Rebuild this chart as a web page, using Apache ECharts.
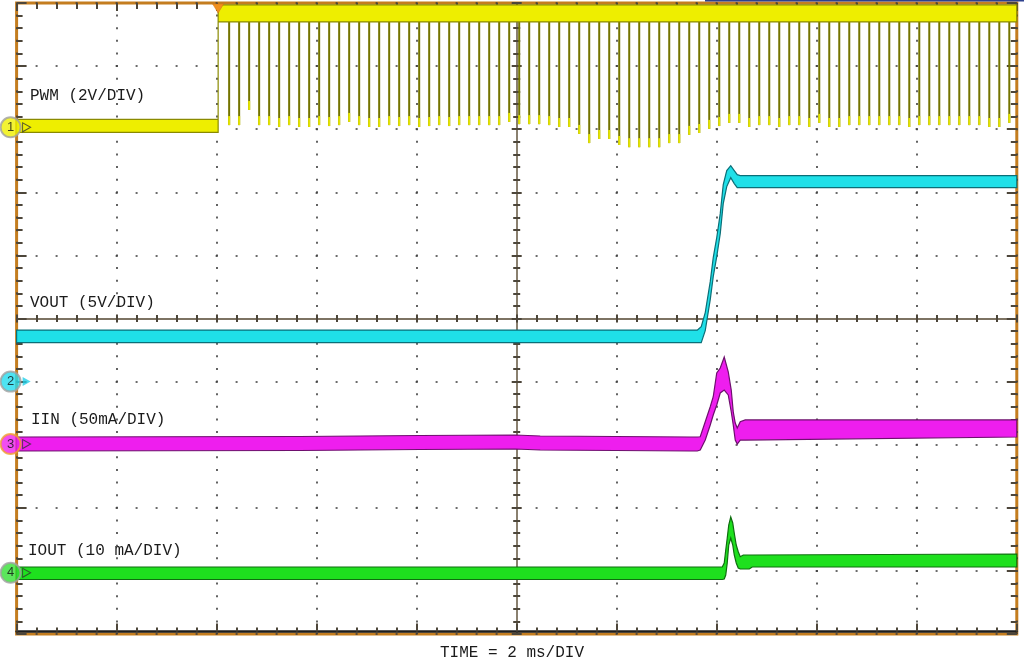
<!DOCTYPE html>
<html><head><meta charset="utf-8">
<script src="https://cdn.jsdelivr.net/npm/echarts@6/dist/echarts.min.js"></script>
<style>html,body{margin:0;padding:0;background:#fff}#c{width:1024px;height:669px}</style>
</head><body><div id="c"></div>
<script>
// ---------------- data ----------------
const channelLabels = ['PWM (2V/DIV)', 'VOUT (5V/DIV)', 'IIN (50mA/DIV)', 'IOUT (10 mA/DIV)'];
const channelNumbers = ['1', '2', '3', '4'];
const timeLabel = 'TIME = 2 ms/DIV';
const unitsPerDiv = [2, 5, 50, 10];          // V/div, V/div, mA/div, mA/div
const groundDiv = [3.03, -1.0, -1.99, -4.03]; // channel reference levels (divisions)
const triggerTime = -5.97;                    // ms

// PWM (V): noise envelope
const pwmTime = [-10, -5.97, -5.97, 10];
const pwmLo = [-0.16, -0.16, 3.34, 3.34];
const pwmHi = [0.25, 0.25, 3.88, 3.88];
// PWM switching pulses (ms) and their minimum (V)
const pwmPulseTime = [-5.75,-5.55,-5.35,-5.15,-4.95,-4.75,-4.55,-4.35,-4.15,-3.95,-3.75,-3.55,-3.35,-3.15,-2.95,-2.75,-2.55,-2.35,-2.15,-1.95,-1.75,-1.55,-1.35,-1.15,-0.95,-0.75,-0.55,-0.35,-0.15,0.05,0.25,0.45,0.65,0.85,1.05,1.25,1.45,1.65,1.85,2.05,2.25,2.45,2.65,2.85,3.05,3.25,3.45,3.65,3.85,4.05,4.25,4.45,4.65,4.85,5.05,5.25,5.45,5.65,5.85,6.05,6.25,6.45,6.65,6.85,7.05,7.25,7.45,7.65,7.85,8.05,8.25,8.45,8.65,8.85,9.05,9.25,9.45,9.65,9.85];
const pwmPulseMin = [0.07,0.07,0.55,0.07,0.07,0.01,0.07,0.01,0.01,0.07,0.04,0.07,0.17,0.07,0.01,0.01,0.07,0.04,0.07,0.01,0.04,0.07,0.04,0.07,0.07,0.07,0.07,0.07,0.17,0.10,0.10,0.10,0.07,0.01,0.01,-0.21,-0.50,-0.37,-0.37,-0.56,-0.63,-0.63,-0.63,-0.63,-0.50,-0.50,-0.24,-0.18,-0.05,0.04,0.14,0.14,0.01,0.07,0.07,0.01,0.07,0.07,0.01,0.14,0.01,0.01,0.07,0.07,0.07,0.07,0.07,0.07,0.01,0.07,0.07,0.07,0.07,0.07,0.07,0.07,0.01,0.01,0.14];

// VOUT (V)
const voutTime = [-10, 3.61, 3.69, 3.77, 3.87, 3.93, 4.00, 4.07, 4.13, 4.20, 4.28, 4.35, 4.41, 4.47, 10];
const voutLo = [3.09, 3.09, 3.09, 4.04, 6.50, 8.32, 9.90, 11.73, 14.10, 15.45, 16.16, 15.69, 15.37, 15.37, 15.37];
const voutHi = [4.08, 4.08, 4.36, 5.47, 7.92, 9.82, 11.41, 13.31, 15.61, 16.72, 17.11, 16.72, 16.40, 16.32, 16.32];

// IIN (mA)
const iinTime = [-10, -4.33, -1.93, -0.03, 0.47, 3.47, 3.61, 3.67, 3.77, 3.87, 3.93, 4.00, 4.07, 4.15, 4.23, 4.29, 4.33, 4.37, 4.41, 4.47, 4.57, 10];
const iinLo = [-5.5, -5.1, -4.3, -3.9, -4.7, -5.5, -5.5, -4.7, 3.2, 15.1, 23.0, 31.0, 40.5, 42.8, 38.9, 25.6, 15.1, 3.2, 0.0, 3.2, 3.2, 5.6];
const iinHi = [5.6, 6.0, 6.8, 7.2, 6.4, 5.6, 5.6, 5.8, 17.7, 29.6, 37.5, 56.3, 60.3, 69.0, 57.3, 42.8, 25.6, 16.7, 12.7, 17.7, 19.1, 19.1];

// IOUT (mA)
const ioutTime = [-10, 4.11, 4.15, 4.18, 4.21, 4.24, 4.28, 4.32, 4.35, 4.39, 4.43, 4.47, 4.53, 4.65, 4.71, 10];
const ioutLo = [-1.06, -1.06, -0.98, -0.35, 1.55, 4.40, 5.51, 4.40, 2.82, 1.55, 0.76, 0.60, 0.60, 0.60, 0.92, 0.92];
const ioutHi = [0.92, 0.92, 1.55, 3.61, 5.51, 7.57, 8.84, 7.89, 6.31, 4.40, 3.34, 2.55, 2.82, 2.82, 2.82, 2.98];

// ---------------- drawing ----------------
const toDiv = (ch, v) => groundDiv[ch] + v / unitsPerDiv[ch];

function bandSeries(ch, t, lo, hi, fill, stroke) {
  return {
    type: 'custom', coordinateSystem: 'cartesian2d', xAxisIndex: 0, yAxisIndex: 0,
    data: [[t[0], toDiv(ch, lo[0])]], silent: true, z: 3, animation: false,
    renderItem(params, api) {
      const pts = [];
      for (let i = 0; i < t.length; i++) pts.push(api.coord([t[i], toDiv(ch, hi[i])]));
      for (let i = t.length - 1; i >= 0; i--) pts.push(api.coord([t[i], toDiv(ch, lo[i])]));
      return { type: 'polygon', shape: { points: pts }, style: { fill: fill, stroke: stroke, lineWidth: 1.2 } };
    }
  };
}

const pulseTop = toDiv(0, (pwmLo[3] + pwmHi[3]) / 2);
const pulseSeries = {
  type: 'custom', coordinateSystem: 'cartesian2d', xAxisIndex: 0, yAxisIndex: 0,
  data: pwmPulseTime.map((t, i) => [t, toDiv(0, pwmPulseMin[i])]),
  silent: true, z: 2, animation: false,
  renderItem(params, api) {
    const t = api.value(0), b = api.value(1);
    const p0 = api.coord([t, pulseTop]), p1 = api.coord([t, b]);
    return { type: 'group', children: [
      { type: 'line', shape: { x1: p0[0], y1: p0[1], x2: p1[0], y2: p1[1] }, style: { stroke: '#747400', lineWidth: 2 } },
      { type: 'line', shape: { x1: p1[0], y1: p1[1] - 9, x2: p1[0], y2: p1[1] }, style: { stroke: '#e4e400', lineWidth: 2 } }
    ] };
  }
};

const markerFill = ['#f0f000', '#22dcef', '#ee22ee', '#33e033'];
const markerRing = ['#a0a0a0', '#a0a0a0', '#f0a030', '#a0a0a0'];
const markerSeries = {
  type: 'scatter', xAxisIndex: 0, yAxisIndex: 0, clip: false, z: 8, silent: true, animation: false,
  symbol: 'circle', symbolSize: 20,
  data: channelNumbers.map((n, i) => ({
    value: [-10.12, groundDiv[i]], name: n,
    itemStyle: { color: markerFill[i], borderColor: markerRing[i], borderWidth: 2 }
  })),
  label: { show: true, position: 'inside', formatter: p => p.name, color: '#111', fontSize: 13, fontFamily: 'Liberation Sans' }
};
const arrowSeries = {
  type: 'scatter', xAxisIndex: 0, yAxisIndex: 0, clip: false, z: 8, silent: true, animation: false,
  symbol: 'triangle', symbolRotate: -90, symbolSize: [9, 8],
  data: channelNumbers.map((n, i) => ({
    value: [-9.8, groundDiv[i]],
    itemStyle: i === 1 ? { color: '#22d0e8' } : { color: 'rgba(0,0,0,0)', borderColor: '#333', borderWidth: 1 }
  }))
};
const triggerSeries = {
  type: 'custom', coordinateSystem: 'cartesian2d', xAxisIndex: 0, yAxisIndex: 0,
  data: [[triggerTime, 5]], silent: true, z: 9, animation: false,
  renderItem(params, api) {
    const p = api.coord([api.value(0), api.value(1)]);
    return { type: 'polygon', shape: { points: [[p[0] - 5.5, p[1] + 1], [p[0] + 5.5, p[1] + 1], [p[0], p[1] + 10]] },
             style: { fill: '#f0901e', stroke: '#d07010', lineWidth: 0.5 } };
  }
};

const X = { type: 'value', min: -10, max: 10, interval: 2 };
const Y = { type: 'value', min: -5, max: 5, interval: 1 };
const tickC = '#4d463a';
const dotC = '#3c3c3c';
const noLabel = { show: false };

function edgeX(pos, extra) {
  return Object.assign({}, X, {
    position: pos, axisLabel: noLabel,
    axisLine: { show: false, onZero: false },
    axisTick: { show: true, inside: true, length: 8, lineStyle: { color: tickC, width: 2 } },
    minorTick: { show: true, splitNumber: 5, length: 5, lineStyle: { color: tickC, width: 2 } },
    splitLine: { show: false }
  }, extra || {});
}
function edgeY(pos, extra) {
  return Object.assign({}, Y, {
    position: pos, axisLabel: noLabel,
    axisLine: { show: false, onZero: false },
    axisTick: { show: true, inside: true, length: 10, lineStyle: { color: tickC, width: 2 } },
    minorTick: { show: true, splitNumber: 5, length: 6, lineStyle: { color: tickC, width: 2 } },
    splitLine: { show: false }
  }, extra || {});
}
function centerX(inside, showLine) {
  return Object.assign({}, X, {
    position: 'bottom', axisLabel: noLabel,
    axisLine: { show: showLine, onZero: true, onZeroAxisIndex: 0, lineStyle: { color: '#7d7363', width: 2 } },
    axisTick: { show: true, inside: inside, length: 4, lineStyle: { color: tickC, width: 2 } },
    minorTick: { show: true, splitNumber: 5, length: 3.5, lineStyle: { color: tickC, width: 2 } },
    splitLine: { show: false }
  });
}
function centerY(inside, showLine) {
  return Object.assign({}, Y, {
    position: 'left', axisLabel: noLabel,
    axisLine: { show: showLine, onZero: true, onZeroAxisIndex: 0, lineStyle: { color: '#8a806f', width: 2 } },
    axisTick: { show: true, inside: inside, length: 5, lineStyle: { color: tickC, width: 2 } },
    minorTick: { show: true, splitNumber: 5, length: 3.5, lineStyle: { color: tickC, width: 2 } },
    splitLine: { show: false }
  });
}

const txt = { fontFamily: 'Liberation Mono', fontSize: 16, fontWeight: 'normal', color: '#1b1b1b' };
const labelPos = [[30, 88], [30, 295], [31, 412], [28, 543]];

const chart = echarts.init(document.getElementById('c'), null, { renderer: 'canvas' });
chart.setOption({
  animation: false,
  backgroundColor: '#ffffff',
  grid: { left: 16.6, top: 3, width: 1000.2, height: 631, show: true, borderColor: '#c47d1f', borderWidth: 3, backgroundColor: 'transparent' },
  title: channelLabels.map((s, i) => ({ text: s, left: labelPos[i][0], top: labelPos[i][1], padding: 0, textStyle: txt }))
    .concat([{ text: timeLabel, left: 440, top: 645, padding: 0, textStyle: txt }]),
  graphic: [{ type: 'rect', shape: { x: 705, y: 0, width: 319, height: 1.5 }, style: { fill: '#2e418e' }, silent: true }],
  xAxis: [
    edgeX('bottom', {
      offset: -2.5,
      axisLine: { show: true, onZero: false, lineStyle: { color: '#1e1e1e', width: 2.5 } },
      axisTick: { show: true, inside: true, length: 8, lineStyle: { color: tickC, width: 2 } },
      minorTick: { show: true, splitNumber: 5, length: 4, lineStyle: { color: tickC, width: 2 } },
      splitLine: { show: true, lineStyle: { color: dotC, width: 1.6, type: [2, 10.62], dashOffset: 1 } }
    }),
    edgeX('top', {
      minorTick: { show: true, splitNumber: 5, length: 6, lineStyle: { color: tickC, width: 2 } }
    }),
    centerX(false, true),
    centerX(true, false)
  ],
  yAxis: [
    edgeY('left', {
      splitLine: { show: true, lineStyle: { color: dotC, width: 1.6, type: [2, 18.0], dashOffset: 1 } }
    }),
    edgeY('right'),
    centerY(false, true),
    centerY(true, false)
  ],
  series: [
    pulseSeries,
    bandSeries(0, pwmTime, pwmLo, pwmHi, '#eeee00', '#8a8a00'),
    bandSeries(1, voutTime, voutLo, voutHi, '#1fe0e8', '#0b6f78'),
    bandSeries(2, iinTime, iinLo, iinHi, '#ee1eee', '#6e0f6e'),
    bandSeries(3, ioutTime, ioutLo, ioutHi, '#1ee01e', '#0f6e0f'),
    markerSeries, arrowSeries, triggerSeries
  ]
});
</script></body></html>
